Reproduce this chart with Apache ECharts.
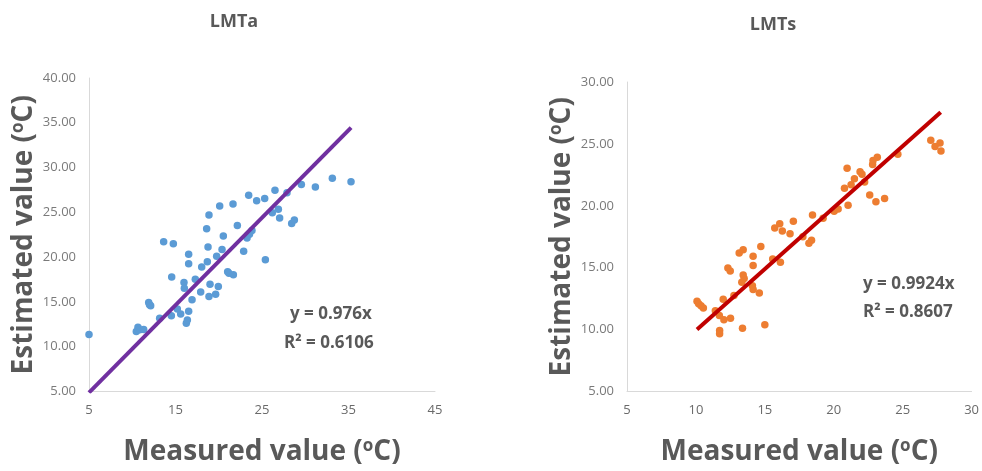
<!DOCTYPE html>
<html><head><meta charset="utf-8">
<script src="https://cdn.jsdelivr.net/npm/echarts@6/dist/echarts.min.js"></script>
<style>html,body{margin:0;padding:0;background:#fff}#c{width:982px;height:471px}</style>
</head><body><div id="c"></div>
<script>
// LMTa data (measured, estimated)
const measuredA = [5.0,10.47,10.66,10.86,11.32,11.9,12.0,12.13,13.17,13.63,14.52,14.56,14.75,15.21,15.6,15.98,16.02,16.25,16.37,16.52,16.52,16.52,16.91,17.29,17.91,18.03,18.6,18.68,18.76,18.87,18.87,18.99,19.64,19.76,19.95,20.11,20.38,20.53,21.03,21.18,21.65,21.69,22.15,22.88,23.27,23.55,23.84,23.46,24.38,25.31,25.39,26.19,26.5,26.89,27.04,27.89,28.43,28.74,29.55,31.17,33.13,35.29];
const estimatedA = [11.37,11.7,12.18,11.89,11.92,14.95,14.69,14.58,13.18,21.72,13.47,17.78,21.5,14.21,13.66,17.16,16.53,12.62,12.99,13.95,20.32,19.26,15.24,17.52,16.12,18.89,23.16,19.48,21.13,24.71,15.61,16.97,15.87,20.1,16.71,25.7,20.84,22.35,18.37,18.2,25.92,18.04,23.53,20.66,22.13,22.55,22.98,26.92,26.29,26.55,19.7,24.97,27.47,25.34,24.38,27.18,23.75,24.16,28.1,27.84,28.8,28.43];
// LMTs data
const measuredS = [10.08,10.2,10.37,10.54,11.41,11.7,12.03,11.98,11.72,11.72,12.51,12.32,12.49,12.76,13.38,13.14,13.43,13.43,13.5,13.33,14.1,14.15,14.15,14.15,14.6,14.71,15.0,15.57,15.72,16.08,16.27,16.13,16.83,17.07,17.76,18.2,18.39,18.46,19.23,20.03,20.32,20.78,20.97,21.04,21.26,21.5,21.91,22.05,22.24,22.61,22.82,22.85,23.16,23.06,23.69,24.65,27.04,27.35,27.71,27.78];
const estimatedS = [12.29,12.08,11.92,11.74,11.53,11.13,10.79,12.45,9.92,9.66,10.91,14.97,14.74,12.76,10.11,16.18,16.45,14.42,14.13,13.82,13.55,13.24,15.92,15.18,12.95,16.71,10.39,15.71,18.21,18.55,17.97,15.45,17.74,18.76,17.5,16.97,17.21,19.26,19.0,19.55,19.74,21.42,23.03,20.05,21.71,22.18,22.76,22.55,21.92,20.87,23.34,23.66,23.92,20.32,20.58,24.16,25.29,24.79,25.08,24.42];
// trendlines
const slopeA = 0.976, trendXA = [5, 35.3];
const slopeS = 0.9924, trendXS = [10.08, 27.76];
const titles = ['LMTa', 'LMTs'];
const eqA = ['y = 0.976x', 'R² = 0.6106'];
const eqS = ['y = 0.9924x', 'R² = 0.8607'];
const xTicksA = [5, 15, 25, 35, 45];

const TXT = '#595959', FONT = 'Open Sans';
const chart = echarts.init(document.getElementById('c'));
const nameStyle = {
  fontFamily: FONT, color: TXT,
  rich: {
    t: {fontSize: 28, fontWeight: 'bold', fontFamily: FONT, color: TXT},
    s: {fontSize: 17, fontWeight: 'bold', fontFamily: FONT, color: TXT, padding: [0, 0, 12, 0]}
  }
};
const xName = '{t|Measured value (}{s|o}{t|C)}';
const yName = '{t|Estimated value (}{s|o}{t|C)}';
const axLine = {show: true, lineStyle: {color: '#d9d9d9', width: 1}};
const lblY = {color: '#7a7a7a', fontFamily: FONT, fontSize: 13, margin: 13, formatter: v => v.toFixed(2)};
function xAx(idx, min, max, itv, fmt) {
  return {type: 'value', gridIndex: idx, min, max, interval: itv, splitLine: {show: false},
    axisLine: axLine, axisTick: {show: false},
    axisLabel: {color: '#6a6a6a', fontFamily: FONT, fontSize: 13, margin: 12, formatter: fmt},
    name: xName, nameLocation: 'middle', nameGap: 46, nameTextStyle: nameStyle};
}
function yAx(idx, min, max) {
  return {type: 'value', gridIndex: idx, min, max, interval: 5, splitLine: {show: false},
    axisLine: axLine, axisTick: {show: false}, axisLabel: lblY,
    name: yName, nameLocation: 'middle', nameGap: 50, nameTextStyle: nameStyle};
}
const eqStyle = {fontFamily: FONT, fontSize: 17, fontWeight: 'bold', fill: TXT};
chart.setOption({
  animation: false,
  title: [
    {text: titles[0], left: 229, top: 8, textAlign: 'center', textStyle: {fontFamily: FONT, fontSize: 18, fontWeight: 'bold', color: TXT}},
    {text: titles[1], left: 768, top: 11, textAlign: 'center', textStyle: {fontFamily: FONT, fontSize: 18, fontWeight: 'bold', color: TXT}}
  ],
  grid: [
    {left: 89, right: 547, top: 78, bottom: 76},
    {left: 627, right: 9, top: 82, bottom: 73}
  ],
  xAxis: [
    xAx(0, 5, 45, 5, v => xTicksA.indexOf(v) >= 0 ? String(v) : ''),
    xAx(1, 5, 30, 5, v => String(v))
  ],
  yAxis: [yAx(0, 5, 40), yAx(1, 5, 30)],
  graphic: [
    {type: 'text', left: 290, top: 306, style: Object.assign({text: eqA[0]}, eqStyle)},
    {type: 'text', left: 284, top: 335, style: Object.assign({text: eqA[1]}, eqStyle)},
    {type: 'text', left: 863, top: 276, style: Object.assign({text: eqS[0]}, eqStyle)},
    {type: 'text', left: 863, top: 304, style: Object.assign({text: eqS[1]}, eqStyle)}
  ],
  series: [
    {type: 'scatter', xAxisIndex: 0, yAxisIndex: 0, symbolSize: 7.5, itemStyle: {color: '#5B9BD5', opacity: 1},
      data: measuredA.map((x, i) => [x, estimatedA[i]])},
    {type: 'line', xAxisIndex: 0, yAxisIndex: 0, showSymbol: false, symbol: 'none',
      lineStyle: {color: '#7030A0', width: 4}, data: trendXA.map(x => [x, slopeA * x])},
    {type: 'scatter', xAxisIndex: 1, yAxisIndex: 1, symbolSize: 7.5, itemStyle: {color: '#ED7D31', opacity: 1},
      data: measuredS.map((x, i) => [x, estimatedS[i]])},
    {type: 'line', xAxisIndex: 1, yAxisIndex: 1, showSymbol: false, symbol: 'none',
      lineStyle: {color: '#C00000', width: 4}, data: trendXS.map(x => [x, slopeS * x])}
  ]
});
</script></body></html>
